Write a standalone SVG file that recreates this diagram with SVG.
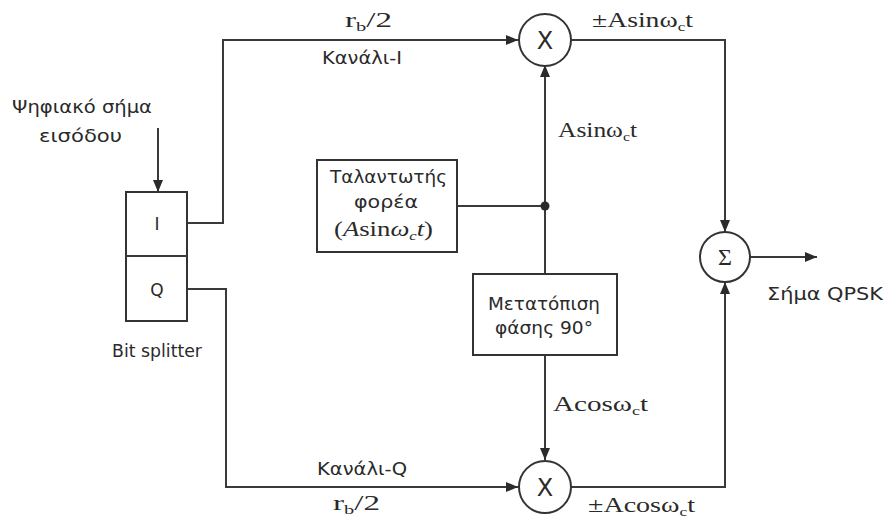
<svg xmlns="http://www.w3.org/2000/svg" width="884" height="519" viewBox="0 0 884 519">
  <defs>
    <marker id="arrow" markerWidth="12" markerHeight="10" refX="12" refY="5" orient="auto" markerUnits="userSpaceOnUse">
      <path d="M0,0 L12,5 L0,10 Z" fill="#2b2b2b"/>
    </marker>
  </defs>
  <style>
    .wire { fill: none; stroke: #3a3a3a; stroke-width: 2; }
    .box { fill: #ffffff; stroke: #333333; stroke-width: 2; }
    .sans { font-family: "DejaVu Sans", "Liberation Sans", sans-serif; font-size: 17px; fill: #2a2a2a; }
    .serif { font-family: "Liberation Serif", "DejaVu Serif", serif; font-size: 21px; fill: #2a2a2a; }
    .sub { font-size: 13px; }
    .mid { text-anchor: middle; }
    .big { font-size: 24px; }
  </style>
  <rect width="884" height="519" fill="#ffffff"/>

  <!-- connectors -->
  <g id="connectors">
    <line class="wire" x1="158" y1="128" x2="158" y2="192" marker-end="url(#arrow)"/>
    <polyline class="wire" points="187,223 223,223 223,40 518,40" marker-end="url(#arrow)"/>
    <polyline class="wire" points="187,289 226,289 226,487 518,487" marker-end="url(#arrow)"/>
    <line class="wire" x1="457" y1="206" x2="545" y2="206"/>
    <line class="wire" x1="545" y1="206" x2="545" y2="65" marker-end="url(#arrow)"/>
    <line class="wire" x1="545" y1="206" x2="545" y2="274"/>
    <line class="wire" x1="545" y1="355" x2="545" y2="460" marker-end="url(#arrow)"/>
    <circle cx="545" cy="206" r="4.5" fill="#2b2b2b"/>
    <polyline class="wire" points="571,40 725,40 725,232" marker-end="url(#arrow)"/>
    <polyline class="wire" points="571,487 725,487 725,282" marker-end="url(#arrow)"/>
    <line class="wire" x1="750" y1="257" x2="817" y2="257" marker-end="url(#arrow)"/>
  </g>

  <!-- input label -->
  <g id="input">
    <text class="sans" x="12" y="113" textLength="140" lengthAdjust="spacingAndGlyphs">Ψηφιακό σήμα</text>
    <text class="sans" x="39" y="142" textLength="83" lengthAdjust="spacingAndGlyphs">εισόδου</text>
  </g>

  <!-- bit splitter -->
  <g id="splitter">
    <rect class="box" x="126" y="192" width="61" height="129"/>
    <line class="wire" x1="126" y1="256" x2="187" y2="256"/>
    <text class="sans mid" x="157" y="230">I</text>
    <text class="sans mid" x="157" y="296">Q</text>
    <text class="sans" x="112" y="357" textLength="90" lengthAdjust="spacingAndGlyphs">Bit splitter</text>
  </g>

  <!-- channel labels -->
  <g id="labels">
    <text class="serif" x="345" y="27" textLength="47" lengthAdjust="spacingAndGlyphs">r<tspan class="sub" dy="4">b</tspan><tspan dy="-4">/2</tspan></text>
    <text class="sans" x="322" y="64" textLength="80" lengthAdjust="spacingAndGlyphs">Κανάλι-I</text>
    <text class="sans" x="317" y="475" textLength="90" lengthAdjust="spacingAndGlyphs">Κανάλι-Q</text>
    <text class="serif" x="333" y="510" textLength="47" lengthAdjust="spacingAndGlyphs">r<tspan class="sub" dy="4">b</tspan><tspan dy="-4">/2</tspan></text>
    <text class="serif" x="592" y="27" textLength="101" lengthAdjust="spacingAndGlyphs">±Asinω<tspan class="sub" dy="4">c</tspan><tspan dy="-4">t</tspan></text>
    <text class="serif" x="558" y="137" textLength="79" lengthAdjust="spacingAndGlyphs">Asinω<tspan class="sub" dy="4">c</tspan><tspan dy="-4">t</tspan></text>
    <text class="serif" x="553" y="411" textLength="95" lengthAdjust="spacingAndGlyphs">Acosω<tspan class="sub" dy="4">c</tspan><tspan dy="-4">t</tspan></text>
    <text class="serif" x="588" y="512" textLength="107" lengthAdjust="spacingAndGlyphs">±Acosω<tspan class="sub" dy="4">c</tspan><tspan dy="-4">t</tspan></text>
    <text class="sans" x="767" y="300" textLength="116" lengthAdjust="spacingAndGlyphs">Σήμα QPSK</text>
  </g>

  <!-- carrier oscillator -->
  <g id="oscillator">
    <rect class="box" x="317" y="160" width="140" height="92"/>
    <text class="sans" x="330" y="183" textLength="117" lengthAdjust="spacingAndGlyphs">Ταλαντωτής</text>
    <text class="sans" x="354" y="208" textLength="64" lengthAdjust="spacingAndGlyphs">φορέα</text>
    <text class="serif" x="334" y="236" textLength="99" lengthAdjust="spacingAndGlyphs">(<tspan font-style="italic">A</tspan>sin<tspan font-style="italic">ω</tspan><tspan class="sub" font-style="italic" dy="4">c</tspan><tspan font-style="italic" dy="-4">t</tspan>)</text>
  </g>

  <!-- phase shifter -->
  <g id="phase">
    <rect class="box" x="473" y="274" width="144" height="81"/>
    <text class="sans" x="488" y="310" textLength="112" lengthAdjust="spacingAndGlyphs">Μετατόπιση</text>
    <text class="sans" x="495" y="334" textLength="98" lengthAdjust="spacingAndGlyphs">φάσης 90°</text>
  </g>

  <!-- multipliers -->
  <g id="mult-i">
    <circle class="box" cx="545" cy="40" r="26"/>
    <text class="sans mid big" x="545" y="49">X</text>
  </g>
  <g id="mult-q">
    <circle class="box" cx="545" cy="487" r="26"/>
    <text class="sans mid big" x="545" y="496">X</text>
  </g>

  <!-- summer -->
  <g id="sum">
    <circle class="box" cx="725" cy="257" r="25"/>
    <text class="serif mid big" x="725" y="265">Σ</text>
  </g>
</svg>
